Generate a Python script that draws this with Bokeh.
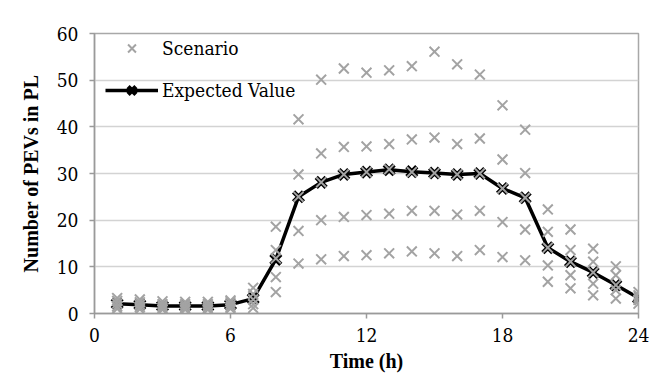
from bokeh.plotting import figure
from bokeh.models import Range1d, FixedTicker, Legend, LegendItem, ColumnDataSource
from bokeh.embed import file_html
from bokeh.resources import INLINE

hours = list(range(1, 25))
expected = [2.1, 1.9, 1.6, 1.6, 1.6, 1.9, 3.2, 11.6, 25.0, 28.1, 29.8, 30.3,
            30.8, 30.4, 30.1, 29.8, 30.0, 26.8, 24.8, 14.1, 11.1, 8.8, 6.1, 3.3]
scenario_a = [3.3, 3.0, 2.6, 2.5, 2.5, 2.8, 5.5, 18.6, 41.6, 50.1, 52.5, 51.6,
              52.1, 53.0, 56.1, 53.4, 51.2, 44.6, 39.4, 22.3, 18.0, 13.9, 10.1, 4.6]
scenario_b = [2.7, 2.4, 2.0, 2.0, 2.0, 2.4, 4.2, 13.6, 29.8, 34.3, 35.7, 35.8,
              36.3, 37.3, 37.7, 36.3, 37.5, 33.0, 30.1, 17.5, 13.6, 11.1, 8.2, 3.9]
scenario_c = [2.1, 1.9, 1.6, 1.6, 1.6, 1.9, 3.0, 11.8, 25.0, 28.1, 29.8, 30.3,
              30.9, 30.3, 30.1, 29.8, 30.0, 26.8, 24.8, 14.1, 11.1, 8.8, 6.1, 3.4]
scenario_d = [1.5, 1.4, 1.2, 1.2, 1.2, 1.4, 2.0, 7.8, 17.7, 20.0, 20.7, 21.1,
              21.4, 22.0, 22.0, 21.2, 22.0, 19.6, 18.0, 10.3, 8.2, 6.4, 5.0, 2.9]
scenario_e = [1.0, 0.9, 0.8, 0.8, 0.8, 1.0, 1.2, 4.6, 10.7, 11.6, 12.3, 12.5,
              12.9, 13.3, 12.9, 12.3, 13.6, 12.1, 11.4, 6.8, 5.4, 3.9, 3.2, 2.1]
x_ticks = [0, 6, 12, 18, 24]
y_ticks = [0, 10, 20, 30, 40, 50, 60]

src = ColumnDataSource(dict(h=hours, ev=expected, a=scenario_a, b=scenario_b,
                            c=scenario_c, d=scenario_d, e=scenario_e))

REG = "DejaVu Serif Condensed"
p = figure(width=659, height=388, output_backend="svg", toolbar_location=None,
           x_range=Range1d(0, 24), y_range=Range1d(0, 60),
           min_border_left=94, min_border_right=21, min_border_top=33,
           min_border_bottom=75)
p.background_fill_color = "white"
p.border_fill_color = "white"
p.outline_line_color = "#A8A8A8"
p.outline_line_width = 1.5

p.xgrid.grid_line_color = None
p.ygrid.grid_line_color = "#D3D3D3"
p.ygrid.grid_line_width = 1.5

p.xaxis.ticker = FixedTicker(ticks=x_ticks)
p.yaxis.ticker = FixedTicker(ticks=y_ticks)
for ax in (p.xaxis, p.yaxis):
    ax.axis_line_color = "#9A9A9A"
    ax.axis_line_width = 1.5
    ax.major_tick_line_color = "#9A9A9A"
    ax.major_tick_line_width = 1.5
    ax.major_tick_out = 5
    ax.major_tick_in = 0
    ax.minor_tick_line_color = None
    ax.major_label_text_font = REG
    ax.major_label_text_font_size = "19px"
    ax.major_label_text_color = "black"
    ax.axis_label_text_font = "Liberation Serif"
    ax.axis_label_text_font_size = "20px"
    ax.axis_label_text_font_style = "bold"
    ax.axis_label_text_color = "black"
p.xaxis.axis_label = "Time (h)"
p.yaxis.axis_label = "Number of PEVs in PL"
p.xaxis.major_label_standoff = 9
p.yaxis.major_label_standoff = 11
p.xaxis.axis_label_standoff = 5
p.yaxis.axis_label_standoff = 12

ev_line = p.line("h", "ev", source=src, line_color="black", line_width=3.5)
ev_mark = p.scatter("h", "ev", source=src, marker="x", size=14,
                    line_color="black", line_width=4.5)
sc = []
for col in ["a", "b", "c", "d", "e"]:
    r = p.scatter("h", col, source=src, marker="x", size=14,
                  line_color="#A3A3A3", line_width=2)
    sc.append(r)

legend = Legend(items=[LegendItem(label="Scenario", renderers=[sc[0]]),
                       LegendItem(label="Expected Value", renderers=[ev_line, ev_mark])],
                location=(11, 209))
legend.label_text_font = REG
legend.label_text_font_size = "19px"
legend.label_text_color = "black"
legend.glyph_width = 53
legend.glyph_height = 28
legend.label_height = 28
legend.label_standoff = 4
legend.spacing = 14
legend.padding = 0
legend.margin = 0
legend.border_line_color = None
legend.background_fill_alpha = 0
p.add_layout(legend)

open("out.html", "w").write(file_html(p, INLINE))
